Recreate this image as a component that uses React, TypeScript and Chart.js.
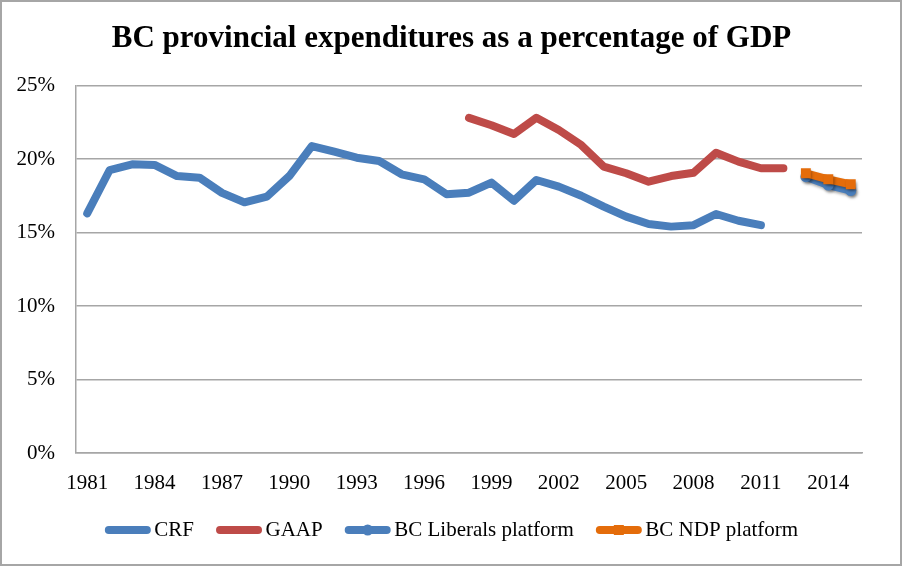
import React, { useEffect, useRef } from "react";
import { Chart, registerables } from "chart.js";

Chart.register(...registerables);

const years: string[] = [
  "1981", "1982", "1983", "1984", "1985", "1986", "1987", "1988", "1989", "1990",
  "1991", "1992", "1993", "1994", "1995", "1996", "1997", "1998", "1999", "2000",
  "2001", "2002", "2003", "2004", "2005", "2006", "2007", "2008", "2009", "2010",
  "2011", "2012", "2013", "2014", "2015",
];

const crf: (number | null)[] = [
  16.3, 19.25, 19.64, 19.6, 18.84, 18.73, 17.7, 17.05, 17.44, 18.84,
  20.88, 20.5, 20.09, 19.86, 18.96, 18.62, 17.6, 17.71, 18.39, 17.16,
  18.57, 18.12, 17.5, 16.76, 16.08, 15.58, 15.4, 15.5, 16.26, 15.8,
  15.5, null, null, null, null,
];

const gaap: (number | null)[] = [
  null, null, null, null, null, null, null, null, null, null,
  null, null, null, null, null, null, null, 22.8, 22.3, 21.7,
  22.8, 21.97, 20.95, 19.48, 19.03, 18.46, 18.84, 19.07, 20.43, 19.82,
  19.37, 19.37, null, null, null,
];

const liberals: (number | null)[] = [
  null, null, null, null, null, null, null, null, null, null,
  null, null, null, null, null, null, null, null, null, null,
  null, null, null, null, null, null, null, null, null, null,
  null, null, 18.8, 18.23, 17.85,
];

const ndp: (number | null)[] = [
  null, null, null, null, null, null, null, null, null, null,
  null, null, null, null, null, null, null, null, null, null,
  null, null, null, null, null, null, null, null, null, null,
  null, null, 19.03, 18.62, 18.28,
];

const seriesNames: string[] = ["CRF", "GAAP", "BC Liberals platform", "BC NDP platform"];
const yTicks: number[] = [0, 5, 10, 15, 20, 25];

const BLUE = "#4a7ebb";
const RED = "#be4b48";
const ORANGE = "#e46c0a";
const GRID = "#a6a6a6";
const FONT = "'Liberation Serif', 'Times New Roman', serif";
const SHIFT = 20.5;

const centerBoxes = {
  id: "centerBoxes",
  beforeDraw(chart: any) {
    const legend = chart.legend;
    if (legend && !legend._shifted) {
      legend.left += SHIFT;
      legend.right += SHIFT;
      (legend.legendHitBoxes || []).forEach((hb: any) => {
        hb.left += SHIFT;
      });
      legend._shifted = true;
    }
    const title = chart.titleBlock;
    if (title && !title._shifted) {
      title.left += SHIFT;
      title.right += SHIFT;
      title._shifted = true;
    }
  },
  afterLayout(chart: any) {
    if (chart.legend) chart.legend._shifted = false;
    if (chart.titleBlock) chart.titleBlock._shifted = false;
  },
};

const legendSamples = {
  id: "legendSamples",
  afterDraw(chart: any) {
    const legend = chart.legend;
    if (!legend || !legend.legendHitBoxes) return;
    const ctx = chart.ctx;
    legend.legendItems.forEach((item: any, i: number) => {
      const hb = legend.legendHitBoxes[i];
      const ds = chart.data.datasets[item.datasetIndex];
      const y = hb.top + hb.height / 2;
      const x0 = hb.left;
      const x1 = hb.left + 46;
      ctx.save();
      ctx.strokeStyle = ds.borderColor;
      ctx.lineWidth = 8;
      ctx.lineCap = "round";
      ctx.beginPath();
      ctx.moveTo(x0 + 4, y);
      ctx.lineTo(x1 - 4, y);
      ctx.stroke();
      const cx = (x0 + x1) / 2;
      ctx.fillStyle = ds.borderColor;
      if (ds.pointStyle === "circle" && ds.pointRadius > 0) {
        ctx.beginPath();
        ctx.arc(cx, y, 5.5, 0, Math.PI * 2);
        ctx.fill();
      } else if (ds.pointStyle === "rect" && ds.pointRadius > 0) {
        ctx.fillRect(cx - 5, y - 5, 10, 10);
      }
      ctx.restore();
    });
  },
};

const shadowPlugin = {
  id: "shadowPlugin",
  beforeDatasetDraw(chart: any, args: any) {
    const ds = chart.data.datasets[args.index];
    if (ds.pointRadius > 0) {
      const ctx = chart.ctx;
      ctx.save();
      ctx.shadowColor = "rgba(0,0,0,0.35)";
      ctx.shadowBlur = 3;
      ctx.shadowOffsetX = 1.5;
      ctx.shadowOffsetY = 2;
    }
  },
  afterDatasetDraw(chart: any, args: any) {
    const ds = chart.data.datasets[args.index];
    if (ds.pointRadius > 0) {
      chart.ctx.restore();
    }
  },
};

export default function App() {
  const ref = useRef<HTMLCanvasElement | null>(null);

  useEffect(() => {
    if (!ref.current) return;
    const chart = new Chart(ref.current, {
      type: "line",
      data: {
        labels: years,
        datasets: [
          {
            label: seriesNames[0],
            data: crf,
            borderColor: BLUE,
            backgroundColor: BLUE,
            borderWidth: 8,
            pointRadius: 0,
            pointStyle: false as any,
            borderCapStyle: "round",
            borderJoinStyle: "round",
            order: 3,
          },
          {
            label: seriesNames[1],
            data: gaap,
            borderColor: RED,
            backgroundColor: RED,
            borderWidth: 8,
            pointRadius: 0,
            pointStyle: false as any,
            borderCapStyle: "round",
            borderJoinStyle: "round",
            order: 2,
          },
          {
            label: seriesNames[2],
            data: liberals,
            borderColor: BLUE,
            backgroundColor: BLUE,
            borderWidth: 8,
            pointRadius: 5.5,
            pointStyle: "circle",
            pointBorderWidth: 0,
            borderCapStyle: "round",
            borderJoinStyle: "round",
            order: 1,
          },
          {
            label: seriesNames[3],
            data: ndp,
            borderColor: ORANGE,
            backgroundColor: ORANGE,
            borderWidth: 8,
            pointRadius: 7,
            pointStyle: "rect",
            pointBorderWidth: 0,
            borderCapStyle: "round",
            borderJoinStyle: "round",
            order: 0,
          },
        ],
      },
      options: {
        animation: false,
        responsive: true,
        maintainAspectRatio: false,
        layout: { padding: { left: 0, right: 40, top: 20.4, bottom: 15.5 } },
        plugins: {
          tooltip: { enabled: false },
          title: {
            display: true,
            text: "BC provincial expenditures as a percentage of GDP",
            color: "#000",
            font: { family: FONT, size: 31, weight: "bold", lineHeight: 1.2 },
            padding: { top: 0, bottom: 27.9 },
          },
          legend: {
            position: "bottom",
            labels: {
              color: "#000",
              font: { family: FONT, size: 21 },
              boxWidth: 39,
              boxHeight: 21,
              padding: 22,
              sort: (a: any, b: any) => a.datasetIndex - b.datasetIndex,
              generateLabels: (chart: any) =>
                chart.data.datasets.map((ds: any, i: number) => ({
                  text: ds.label,
                  fillStyle: "rgba(0,0,0,0)",
                  strokeStyle: "rgba(0,0,0,0)",
                  lineWidth: 0,
                  hidden: false,
                  datasetIndex: i,
                  fontColor: "#000",
                })),
            },
          },
        },
        scales: {
          x: {
            type: "category",
            offset: true,
            grid: { display: false, drawTicks: false },
            border: { display: true, color: GRID, width: 1.5 },
            ticks: {
              autoSkip: false,
              maxRotation: 0,
              minRotation: 0,
              color: "#000",
              padding: 18,
              font: { family: FONT, size: 21 },
              callback: (_v: any, i: number) => (i % 3 === 0 ? years[i] : null),
            },
            afterFit: (scale: any) => {
              scale.height = 44.5;
            },
          },
          y: {
            min: 0,
            max: 25,
            afterBuildTicks: (scale: any) => {
              scale.ticks = yTicks.map((v) => ({ value: v }));
            },
            grid: { color: GRID, lineWidth: 1.5, drawTicks: false },
            border: { display: true, color: GRID, width: 1.5 },
            ticks: {
              color: "#000",
              padding: 21,
              font: { family: FONT, size: 21 },
              callback: (v: any) => v + "%",
            },
            afterFit: (scale: any) => {
              scale.width = 76;
            },
          },
        },
      },
      plugins: [centerBoxes, shadowPlugin, legendSamples],
    });
    return () => chart.destroy();
  }, []);

  return (
    <div
      style={{
        position: "absolute",
        left: 0,
        top: 0,
        width: 902,
        height: 566,
        background: "#fff",
      }}
    >
      <canvas ref={ref} />
      <div
        style={{
          position: "absolute",
          inset: 0,
          border: "2px solid #a6a6a6",
          boxSizing: "border-box",
          pointerEvents: "none",
        }}
      />
    </div>
  );
}
